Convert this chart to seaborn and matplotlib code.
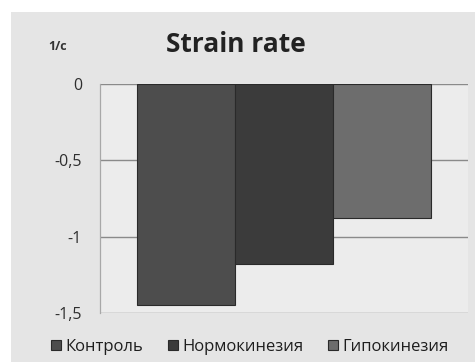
import numpy as np
import pandas as pd
import matplotlib
matplotlib.use("Agg")
import matplotlib.pyplot as plt
from matplotlib.patches import Rectangle
import seaborn as sns

# data
groups = ["Контроль", "Нормокинезия", "Гипокинезия"]
values = [-1.45, -1.18, -0.88]
colors = ["#4d4d4d", "#3b3b3b", "#6d6d6d"]
yticks = [0, -0.5, -1, -1.5]
ytick_labels = ["0", "-0,5", "-1", "-1,5"]

df = pd.DataFrame({"param": ["Strain rate"] * 3, "group": groups, "value": values})

sns.set_style("white")
plt.rcParams["font.family"] = ["Open Sans", "DejaVu Sans"]

fig = plt.figure(figsize=(4.75, 3.62), dpi=100, facecolor="white")
# scanned page background
bg = Rectangle((0.024, 0), 1, 1 - 12 / 362, transform=fig.transFigure,
               facecolor="#e5e5e5", edgecolor="none", zorder=-10)
fig.add_artist(bg)

ax = fig.add_axes([100 / 475, 1 - 313 / 362, 368 / 475, 229 / 362])
ax.set_zorder(1)
ax.set_facecolor("#ececec")

sns.barplot(data=df, x="param", y="value", hue="group", hue_order=groups,
            palette=colors, width=0.8, gap=0, edgecolor="#2a2a2a", linewidth=0.8,
            ax=ax, zorder=3)

ax.set_ylim(-1.5, 0)
ax.set_xlim(-0.5, 0.5)
ax.set_yticks(yticks)
ax.set_yticklabels(ytick_labels, fontsize=11.5, color="#2e2e2e")
ax.tick_params(axis="y", length=0, pad=13)
ax.set_xticks([])
ax.set_xlabel("")
ax.set_ylabel("")
for y in yticks:
    ax.axhline(y, color="#8a8a8a", lw=1.0, zorder=1)
for side in ["top", "right", "bottom"]:
    ax.spines[side].set_visible(False)
ax.spines["left"].set_color("#a8a8a8")
ax.spines["left"].set_linewidth(0.9)

fig.text(236 / 475, 1 - 45 / 362, "Strain rate", ha="center", va="center",
         fontsize=19, fontweight="bold", color="#222222")
fig.text(58 / 475, 1 - 47 / 362, "1/с", ha="center", va="center",
         fontsize=9, fontweight="bold", color="#333333")

sns.move_legend(ax, "center", bbox_to_anchor=(250 / 475, 1 - 347 / 362),
                bbox_transform=fig.transFigure, ncol=3, frameon=False, title=None,
                fontsize=12, handlelength=0.6, handleheight=0.6, handletextpad=0.25,
                columnspacing=1.5, labelcolor="#1e1e1e")

fig.savefig("out.png", dpi=100, facecolor=fig.get_facecolor())
